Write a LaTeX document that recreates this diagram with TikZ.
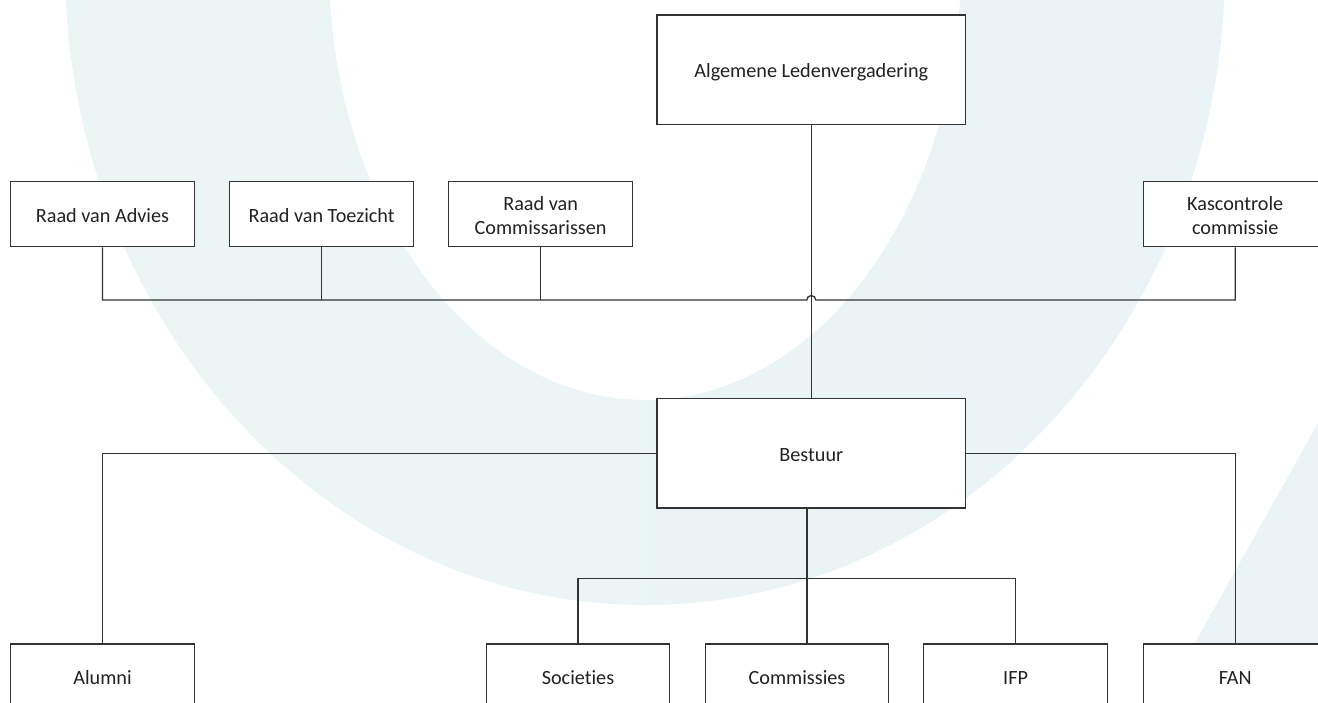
\documentclass[tikz,border=0pt]{standalone}
\usepackage{fontspec}
\setmainfont{Carlito}[Ligatures=NoCommon]
\definecolor{linecol}{HTML}{333333}
\definecolor{txtcol}{HTML}{222222}
\definecolor{bgteal}{HTML}{EBF6F4}
\definecolor{bgblue}{HTML}{EAF3F6}
\newcommand\mystrut{\rule[-4.2pt]{0pt}{24pt}}
\tikzset{
  orgbox/.style={draw=linecol, line width=1.3pt, fill=white, rectangle, inner sep=0pt,
    minimum width=183.6pt, minimum height=65pt, align=center, text=txtcol,
    font=\fontsize{20.2}{24}\selectfont},
  bigbox/.style={orgbox, minimum width=308.7pt, minimum height=109.3pt},
  conn/.style={draw=linecol, line width=1.3pt}
}
\begin{document}
\begin{tikzpicture}[x=1pt,y=-1pt]
\useasboundingbox (0,0) rectangle (1318,702);
\begin{scope}
\clip (0,0) rectangle (1318,702);
% background arc
\shade[even odd rule, left color=bgteal, right color=bgblue]
  (645,-35) ellipse [x radius=580pt, y radius=640pt]
  (645,-35) ellipse [x radius=316pt, y radius=435pt];
\fill[bgblue] (1318,423) -- (1162,702) -- (1330,702) -- (1330,423) -- cycle;

% nodes
\node[bigbox] (alv) at (811.3,69.7) {\mystrut Algemene Ledenvergadering};
\node[orgbox] (advies) at (102.5,214.2) {\mystrut Raad van Advies};
\node[orgbox] (toez) at (321.6,214.2) {\mystrut Raad van Toezicht};
\node[orgbox] (comm) at (540.6,214.2) {\mystrut Raad van\\\mystrut Commissarissen};
\node[orgbox] (kas) at (1235.2,214.2) {\mystrut Kascontrole\\\mystrut commissie};
\node[bigbox] (best) at (811.3,453.2) {\mystrut Bestuur};
\node[orgbox] (alumni) at (102.5,676.5) {\mystrut Alumni};
\node[orgbox] (soc) at (578,676.5) {\mystrut Societies};
\node[orgbox] (commis) at (797,676.5) {\mystrut Commissies};
\node[orgbox] (ifp) at (1015.6,676.5) {\mystrut IFP};
\node[orgbox] (fan) at (1235.2,676.5) {\mystrut FAN};

% helper coordinates
\coordinate (bus) at (0,300);
\coordinate (hopL) at (806.8,300);
\coordinate (bsouth) at (807,507.7);
\coordinate (j) at (807,578.3);

% connectors
\draw[conn] (advies.south) |- (hopL) arc[start angle=180, end angle=0, radius=4.5pt] -| (kas.south);
\draw[conn] (toez.south) -- (toez.south |- bus);
\draw[conn] (comm.south) -- (comm.south |- bus);
\draw[conn] (alv.south) -- (best.north);
\draw[conn] (best.west) -| (alumni.north);
\draw[conn] (best.east) -| (fan.north);
\draw[conn] (bsouth) -- (j);
\draw[conn] (soc.north) |- (j) -| (ifp.north);
\draw[conn] (j) -- (j |- commis.north);
\end{scope}
\end{tikzpicture}
\end{document}
